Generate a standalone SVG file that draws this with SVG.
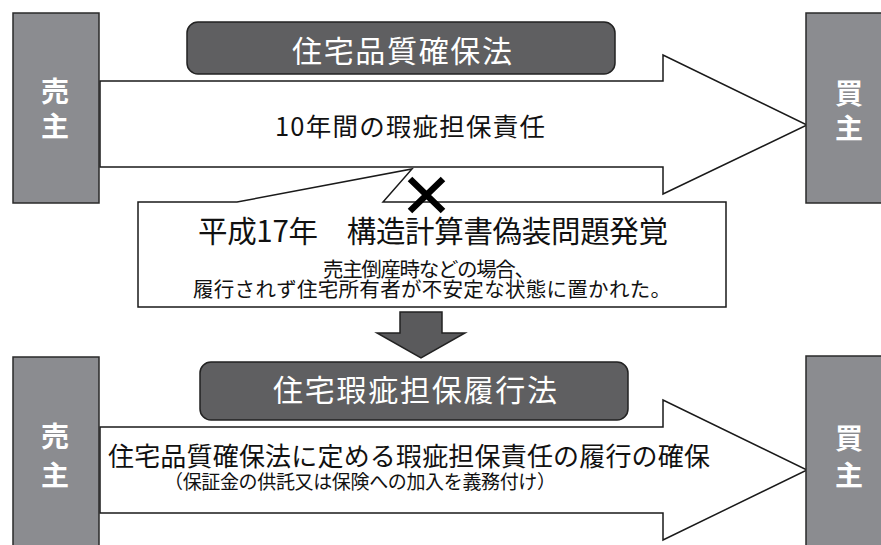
<svg xmlns="http://www.w3.org/2000/svg" width="881" height="545" viewBox="0 0 881 545">
<style>
.party{fill:#8b8c90;stroke:#2a2a2a;stroke-width:1.5}
.ptxt{fill:#ffffff;font-family:"Noto Sans CJK JP",sans-serif;font-weight:bold;font-size:28px;text-anchor:middle}
.pill{fill:#5f5f61;stroke:#222;stroke-width:1.5}
.ttl{fill:#ffffff;font-family:"Noto Sans CJK JP",sans-serif;font-size:30px;text-anchor:middle}
.arrow{fill:#ffffff;stroke:#1a1a1a;stroke-width:1.5;stroke-linejoin:miter}
.txt{fill:#111;font-family:"Noto Sans CJK JP",sans-serif;text-anchor:middle}
</style>
<rect width="881" height="545" fill="#ffffff"/>
<g id="connectors">
  <path id="arrow-top" class="arrow" d="M100,81 L663,81 L663,55 L807,125 L663,194 L663,167 L100,167 Z"/>
  <path id="arrow-bottom" class="arrow" d="M100,427 L663,427 L663,400 L807,470 L663,540 L663,513 L100,513 Z"/>
  <path id="arrow-down" d="M400,312 L442,312 L442,333 L465,333 L421,358 L377,333 L400,333 Z" fill="#5a5a5c" stroke="#222" stroke-width="1.5"/>
</g>
<g id="seller-top">
  <rect class="party" x="13" y="13" width="86" height="190"/>
  <text class="ptxt" x="55" y="102">売</text>
  <text class="ptxt" x="55" y="137">主</text>
</g>
<g id="buyer-top">
  <rect class="party" x="806" y="13" width="86" height="190"/>
  <text class="ptxt" x="849" y="104">買</text>
  <text class="ptxt" x="849" y="139">主</text>
</g>
<g id="law1">
  <rect class="pill" x="187" y="22" width="428" height="52" rx="11"/>
  <text class="ttl" x="402" y="62" textLength="220" lengthAdjust="spacing">住宅品質確保法</text>
</g>
<g id="label1">
  <text class="txt" x="410" y="136" font-size="25.5" textLength="270" lengthAdjust="spacing">10年間の瑕疵担保責任</text>
</g>
<g id="callout">
  <path d="M138,202 L237,202 L412,169 L383,202 L726,202 L726,307 L138,307 Z" fill="#ffffff" stroke="#1a1a1a" stroke-width="1.5"/>
  <text class="txt" x="433" y="242" font-size="29.5" textLength="470" lengthAdjust="spacing">平成17年　構造計算書偽装問題発覚</text>
  <text class="txt" x="429" y="277" font-size="20.5" textLength="212" lengthAdjust="spacing">売主倒産時などの場合、</text>
  <text class="txt" x="432" y="297" font-size="20.5" textLength="478" lengthAdjust="spacing">履行されず住宅所有者が不安定な状態に置かれた。</text>
</g>
<g id="cross">
  <path d="M410,179 L443,211 M443,179 L410,211" stroke="#000" stroke-width="6.5" fill="none"/>
</g>
<g id="seller-bottom">
  <rect class="party" x="13" y="357" width="86" height="200"/>
  <text class="ptxt" x="55" y="447">売</text>
  <text class="ptxt" x="55" y="486">主</text>
</g>
<g id="buyer-bottom">
  <rect class="party" x="806" y="356" width="86" height="200"/>
  <text class="ptxt" x="849" y="449">買</text>
  <text class="ptxt" x="849" y="486">主</text>
</g>
<g id="law2">
  <rect class="pill" x="200" y="362" width="428" height="58" rx="11"/>
  <text class="ttl" x="415" y="401" font-size="29" textLength="284" lengthAdjust="spacing">住宅瑕疵担保履行法</text>
</g>
<g id="label2">
  <text class="txt" x="409" y="466" font-size="26" textLength="602" lengthAdjust="spacing">住宅品質確保法に定める瑕疵担保責任の履行の確保</text>
  <text class="txt" x="360" y="489" font-size="19" textLength="392" lengthAdjust="spacing">（保証金の供託又は保険への加入を義務付け）</text>
</g>
</svg>
